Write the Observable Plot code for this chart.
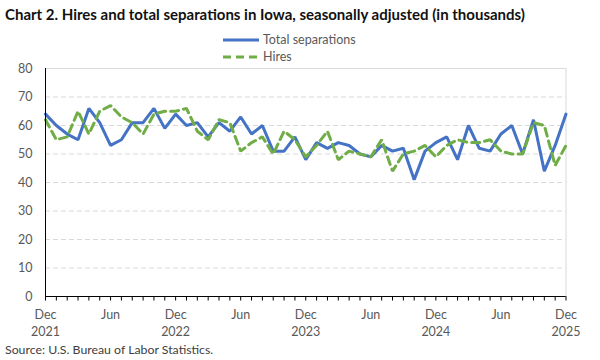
<!DOCTYPE html>
<html>
<head>
<meta charset="utf-8">
<script src="https://cdn.jsdelivr.net/npm/d3@7"></script>
<script src="https://cdn.jsdelivr.net/npm/@observablehq/plot@0.6"></script>
<style>
  body { margin: 0; background: #fff; font-family: Lato, "Open Sans", sans-serif; }
  #wrap { position: relative; width: 600px; height: 360px; overflow: hidden; }
  #title { position: absolute; left: 5px; top: 4px; font-size: 15px; font-weight: bold; color: #111; white-space: nowrap; line-height: 20px; }
  #legend { position: absolute; left: 223px; top: 31px; font-size: 12.5px; color: #595959; }
  .row { display: flex; align-items: center; height: 17px; }
  .row svg { margin-right: 4px; }
  #source { position: absolute; left: 5px; top: 342px; font-size: 12.3px; color: #404040; line-height: 16px; white-space: nowrap; }
  #chart { position: absolute; left: 0; top: 0; }
</style>
</head>
<body>
<div id="wrap">
  <div id="chart"></div>
  <div id="title">Chart 2. Hires and total separations in Iowa, seasonally adjusted (in thousands)</div>
  <div id="legend"></div>
  <div id="source">Source: U.S. Bureau of Labor Statistics.</div>
</div>
<script>
// Months: Dec 2021 through Dec 2025
const months = d3.utcMonth.range(new Date(Date.UTC(2021, 11, 1)), new Date(Date.UTC(2026, 0, 1)));
const monthNames = ["Jan","Feb","Mar","Apr","May","Jun","Jul","Aug","Sep","Oct","Nov","Dec"];
const labeledMonths = ["Jun", "Dec"];

const seriesNames = ["Total separations", "Hires"];
const seriesColors = ["#4472C4", "#70AD47"];

const totalSeparations = [64, 60, 57, 55, 66, 61, 53, 55, 61, 61, 66, 59,
  64, 60, 61, 56, 61, 58, 63, 57, 60, 51, 51, 56,
  48, 54, 52, 54, 53, 50, 49, 53, 51, 52, 41, 51,
  54, 56, 48, 60, 52, 51, 57, 60, 50, 62, 44, 53, 64];

const hires = [62, 55, 56, 65, 57, 65, 67, 63, 61, 57, 64, 65,
  65, 66, 58, 55, 62, 61, 51, 54, 56, 50, 58, 55,
  49, 53, 58, 48, 51, 50, 49, 55, 44, 50, 51, 53,
  49, 53, 55, 54, 54, 55, 51, 50, 50, 61, 60, 46, 53];

const yTicks = [0, 10, 20, 30, 40, 50, 60, 70, 80];

const key = d => d3.utcFormat("%Y-%m")(d);
const monthKeys = months.map(key);

const sepData = months.map((d, i) => ({month: key(d), value: totalSeparations[i]}));
const hireData = months.map((d, i) => ({month: key(d), value: hires[i]}));

function fmt(k) {
  const [y, m] = k.split("-").map(Number);
  const name = monthNames[m - 1];
  if (!labeledMonths.includes(name)) return "";
  return name === "Dec" ? name + "\n" + y : name;
}

const first = monthKeys[0], last = monthKeys[monthKeys.length - 1];

const chart = Plot.plot({
  width: 600,
  height: 360,
  marginTop: 68,
  marginBottom: 64,
  marginLeft: 45,
  marginRight: 34.5,
  style: {fontFamily: "Lato, 'Open Sans', sans-serif", fontSize: "12px", color: "#595959", background: "white"},
  x: {type: "point", domain: monthKeys, padding: 0},
  y: {domain: [0, 80]},
  marks: [
    Plot.ruleY(yTicks.filter(v => v > 0 && v < 80), {stroke: "#d9d9d9", strokeDasharray: "5,3", strokeWidth: 1}),
    Plot.ruleY([80], {stroke: "#d9d9d9", strokeWidth: 1}),
    Plot.ruleX([last], {y1: 0, y2: 80, stroke: "#d9d9d9", strokeWidth: 1}),
    Plot.axisY({ticks: yTicks, tickSize: 0, tickPadding: 13, label: null, fill: "#595959", fontSize: 12.5}),
    Plot.axisX({tickSize: 4.5, tickFormat: () => "", label: null, stroke: "black"}),
    Plot.axisX({tickSize: 0, tickPadding: 11, tickFormat: fmt, label: null, fill: "#595959", fontSize: 12.5, lineHeight: 1.35}),
    Plot.line(sepData, {x: "month", y: "value", stroke: seriesColors[0], strokeWidth: 3, strokeLinejoin: "miter"}),
    Plot.line(hireData, {x: "month", y: "value", stroke: seriesColors[1], strokeWidth: 3, strokeDasharray: "8,5", strokeLinejoin: "miter"}),
    Plot.ruleX([first], {y1: 0, y2: 80, stroke: "black", strokeWidth: 1}),
    Plot.ruleY([0], {stroke: "black", strokeWidth: 1})
  ]
});
document.getElementById("chart").appendChild(chart);

// Legend
const legend = document.getElementById("legend");
seriesNames.forEach((name, i) => {
  const row = document.createElement("div");
  row.className = "row";
  const dash = i === 1 ? ' stroke-dasharray="8,5"' : '';
  row.innerHTML = `<svg width="36" height="10"><line x1="0" x2="36" y1="5" y2="5" stroke="${seriesColors[i]}" stroke-width="3"${dash}/></svg><span>${name}</span>`;
  legend.appendChild(row);
});
</script>
</body>
</html>
